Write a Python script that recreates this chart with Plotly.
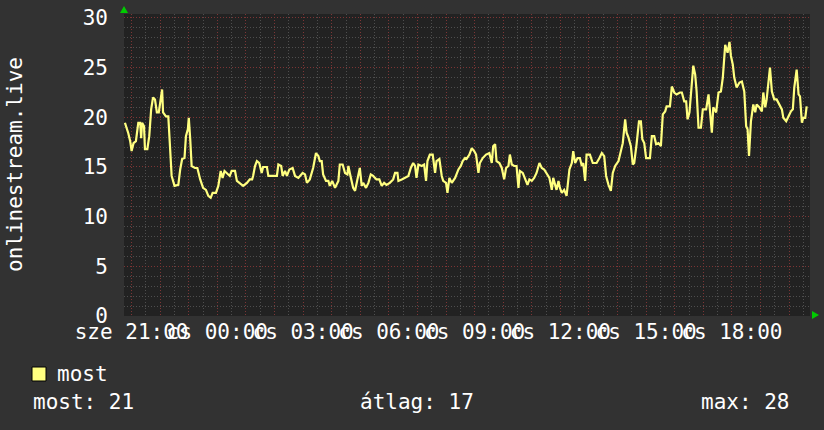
import plotly.graph_objects as go
import pandas as pd

# ---------------- data ----------------
series_name = "most"
y_title = "onlinestream.live"
start_date = "2024-01-10"          # a Wednesday ("sze"), next day Thursday ("cs")
day_abbr = ["sze", "cs"]

times = [
    "20:46","20:50","20:53","20:57","21:00","21:04","21:09","21:14","21:18","21:20",
    "21:22","21:26","21:28","21:33","21:37","21:41","21:45","21:49","21:53","21:57",
    "22:01","22:04","22:06","22:12","22:17","22:21","22:24","22:30","22:38","22:42",
    "22:46","22:51","22:54","22:58","23:00","23:03","23:06","23:13","23:18","23:24",
    "23:30","23:36","23:41","23:46","23:50","23:57","00:02","00:07","00:11","00:15",
    "00:26","00:30","00:37","00:41","00:47","00:54","01:02","01:08","01:13","01:15",
    "01:19","01:23","01:28","01:33","01:36","01:44","01:47","02:05","02:08","02:14",
    "02:17","02:22","02:26","02:31","02:38","02:43","02:50","02:55","02:59","03:04",
    "03:08","03:14","03:18","03:21","03:27","03:32","03:35","03:39","03:42","03:48",
    "03:53","03:56","04:01","04:07","04:14","04:17","04:23","04:28","04:33","04:35",
    "04:38","04:42","04:45","04:49","04:52","04:59","05:03","05:06","05:12","05:17",
    "05:22","05:27","05:34","05:40","05:45","05:50","05:55","06:02","06:09","06:13",
    "06:18","06:20","06:27","06:34","06:41","06:46","06:51","06:55","06:58","07:02",
    "07:09","07:14","07:18","07:21","07:26","07:32","07:37","07:40","07:46","07:51",
    "07:54","08:00","08:03","08:07","08:12","08:19","08:26","08:31","08:35","08:40",
    "08:43","08:49","08:54","08:59","09:03","09:08","09:11","09:17","09:24","09:31",
    "09:36","09:39","09:43","09:46","09:52","09:57","10:02","10:06","10:11","10:14",
    "10:18","10:23","10:28","10:32","10:35","10:41","10:46","10:51","10:55","11:00",
    "11:05","11:10","11:16","11:21","11:26","11:31","11:37","11:42","11:45","11:49",
    "11:52","11:56","11:59","12:03","12:08","12:13","12:19","12:24","12:27","12:31",
    "12:36","12:41","12:45","12:48","12:52","12:55","13:02","13:08","13:16","13:22",
    "13:27","13:32","13:36","13:41","13:46","13:50","13:55","14:02","14:07","14:11",
    "14:16","14:19","14:23","14:28","14:32","14:35","14:40","14:45","14:49","14:52",
    "14:56","15:00","15:08","15:12","15:17","15:21","15:26","15:31","15:35","15:40",
    "15:43","15:50","15:54","15:59","16:04","16:11","16:15","16:20","16:24","16:27",
    "16:31","16:36","16:39","16:43","16:46","16:50","16:55","16:59","17:06","17:11",
    "17:14","17:18","17:21","17:27","17:32","17:37","17:41","17:46","17:51","17:55",
    "17:58","18:02","18:05","18:10","18:16","18:21","18:26","18:30","18:33","18:36",
    "18:40","18:45","18:49","18:52","18:58","19:03","19:06","19:10","19:13","19:17",
    "19:20","19:24","19:29","19:34","19:40","19:45","19:48","19:54","19:59","20:04",
    "20:08","20:11","20:16","20:20","20:23","20:27","20:30","20:34","20:37",
]

values = [
    19.45,18.95,18.4,17.6,16.6,17.4,17.6,19.45,19.45,17.9,
    19.45,19.1,16.8,16.8,18.1,20.8,22.0,21.8,20.5,20.5,
    21.8,22.8,20.5,20.1,20.1,17.1,14.1,13.1,13.2,14.75,
    15.8,15.9,18.1,18.8,19.95,17.8,15.1,14.9,14.9,13.75,
    12.9,12.7,12.1,11.9,12.4,12.4,13.1,14.6,13.9,14.6,
    14.1,14.6,14.6,13.6,13.4,13.1,13.4,13.75,13.75,14.1,
    15.1,15.6,15.4,14.4,15.0,15.0,14.1,14.1,15.25,15.1,
    14.1,14.6,14.1,14.75,14.9,14.1,13.9,14.25,14.4,14.25,
    13.4,13.75,14.4,14.9,16.4,16.1,15.6,15.6,14.25,13.6,
    13.6,13.1,13.6,12.9,13.6,15.25,15.25,14.4,14.25,15.1,
    14.4,13.4,12.9,12.6,13.4,14.9,13.1,13.4,12.9,13.4,
    14.25,14.1,13.75,13.75,13.1,13.4,13.2,13.4,13.75,14.4,
    14.4,13.6,13.75,13.9,14.1,14.9,15.4,15.1,13.9,15.25,
    15.1,15.25,13.6,15.6,16.25,16.25,14.4,15.6,15.8,14.1,
    13.6,13.4,12.4,13.9,13.4,13.9,14.75,15.1,15.6,15.9,
    15.8,16.25,16.9,16.6,16.25,14.4,15.4,15.9,16.25,16.4,
    15.4,17.1,17.3,15.6,15.4,14.9,13.75,14.9,15.1,16.25,
    15.25,15.1,15.1,12.9,14.6,14.4,13.75,13.2,13.75,13.6,
    13.9,14.4,15.4,14.9,14.75,14.4,13.9,12.7,13.9,13.2,
    12.7,13.6,12.9,12.4,12.7,12.1,14.75,15.4,16.6,15.4,
    15.9,15.9,15.1,15.4,13.6,16.25,16.25,15.4,15.4,15.9,
    16.4,16.1,14.1,13.2,12.6,14.4,15.1,15.6,16.6,17.4,
    19.8,18.45,17.95,17.1,15.25,15.4,17.3,19.6,19.6,17.8,
    17.4,15.9,15.9,18.1,18.1,17.3,17.4,17.1,20.3,20.6,
    21.1,21.1,23.1,22.5,22.3,22.5,22.5,21.6,21.6,19.8,
    20.5,23.6,25.2,24.3,22.6,18.95,18.95,20.8,20.8,22.3,
    20.3,18.45,21.0,20.5,22.5,22.6,24.0,27.3,26.5,27.6,
    26.2,25.3,24.0,23.0,23.5,23.6,22.6,19.1,18.8,16.1,
    19.6,21.3,20.5,21.3,21.0,20.6,22.5,21.0,21.8,23.5,
    25.0,22.6,21.8,21.8,21.3,20.8,19.95,19.6,20.1,20.6,
    20.8,23.0,24.8,22.3,22.1,19.45,19.95,19.95,21.1,
]

stat_labels = ["most", "átlag", "max"]
stat_values = [21, 17, 28]
y_ticks = [0, 5, 10, 15, 20, 25, 30]

assert len(times) == len(values), (len(times), len(values))

# ---------------- build timestamps ----------------
base = pd.Timestamp(start_date)
stamps = []
day = 0
prev = None
for t in times:
    h, m = map(int, t.split(":"))
    mins = h * 60 + m
    if prev is not None and mins < prev:
        day += 1
    prev = mins
    stamps.append(base + pd.Timedelta(days=day, minutes=mins))

x_start = base + pd.Timedelta(hours=20, minutes=44)
x_end = x_start + pd.Timedelta(hours=24)
hours = pd.date_range(x_start.ceil("h"), x_end, freq="h")
ticktext = [
    f"{day_abbr[(h.normalize() - base).days]} {h:%H:%M}" if h.hour % 3 == 0 else ""
    for h in hours
]

# ---------------- style ----------------
W, H = 824, 430
ML, MR, MT, MB = 124, 14, 14, 114
PW, PH = W - ML - MR, H - MT - MB
FONT = "DejaVu Sans Mono"
BG = "#323232"
CANVAS = "#222222"
MAJOR = "#7c3535"
MINOR = "#4e4e4e"
LINE = "#ffff80"
WHITE = "#ffffff"

def px(xp):
    return (xp - ML) / PW

def py(yp):
    return (H - MB - yp) / PH

fig = go.Figure()
fig.add_trace(go.Scatter(
    x=stamps, y=values, mode="lines",
    line=dict(color=LINE, width=2.2),
    showlegend=False, hoverinfo="skip",
))

fig.update_layout(
    width=W, height=H,
    margin=dict(l=ML, r=MR, t=MT, b=MB, autoexpand=False),
    paper_bgcolor=BG, plot_bgcolor=CANVAS,
    font=dict(family=FONT, color=WHITE, size=20),
    showlegend=False,
    xaxis=dict(
        type="date", range=[x_start, x_end], automargin=False,
        tickmode="array", tickvals=hours, ticktext=ticktext,
        tickangle=0, tickfont=dict(family=FONT, size=21, color=WHITE),
        showgrid=True, gridcolor=MAJOR, griddash="1px,2px", gridwidth=1,
        minor=dict(dtick=30 * 60 * 1000, tick0=x_start.ceil("h"),
                   showgrid=True, gridcolor=MINOR, griddash="1px,2px", gridwidth=1),
        zeroline=False, showline=False, ticks="", ticklabelstandoff=1,
        fixedrange=True,
    ),
    yaxis=dict(
        range=[0, 30.4], automargin=False,
        tickmode="array", tickvals=y_ticks,
        tickfont=dict(family=FONT, size=21, color=WHITE),
        showgrid=True, gridcolor=MAJOR, griddash="1px,2px", gridwidth=1,
        minor=dict(dtick=1, tick0=0, showgrid=True, gridcolor=MINOR,
                   griddash="1px,2px", gridwidth=1),
        zeroline=False, showline=False, ticks="", ticklabelstandoff=15,
        fixedrange=True,
    ),
)

annotations = [
    dict(text=y_title, textangle=-90, xref="paper", yref="paper",
         x=px(15), y=0.5, xanchor="center", yanchor="middle",
         showarrow=False, font=dict(family=FONT, size=21, color=WHITE)),
    dict(text=series_name, xref="paper", yref="paper",
         x=px(55), y=py(374), xanchor="left", yanchor="middle",
         showarrow=False, font=dict(family=FONT, size=21, color=WHITE)),
]
stat_pos = [(31, "left"), (358, "left"), (792, "right")]
for (lab, val), (xp, anc) in zip(zip(stat_labels, stat_values), stat_pos):
    annotations.append(dict(
        text=f"{lab}: {val}", xref="paper", yref="paper",
        x=px(xp), y=py(402), xanchor=anc, yanchor="middle",
        showarrow=False, font=dict(family=FONT, size=21, color=WHITE)))
fig.update_layout(annotations=annotations)

shapes = [
    dict(type="rect", xref="paper", yref="paper",
         x0=px(32), x1=px(46), y0=py(381), y1=py(367),
         fillcolor=LINE, line=dict(color="#000000", width=1)),
    # green axis arrows
    dict(type="path", xref="paper", yref="paper",
         path=f"M {px(120)},{py(13)} L {px(128)},{py(13)} L {px(124)},{py(6)} Z",
         fillcolor="#00cc00", line=dict(width=0)),
    dict(type="path", xref="paper", yref="paper",
         path=f"M {px(812)},{py(311)} L {px(812)},{py(319)} L {px(819)},{py(315)} Z",
         fillcolor="#00cc00", line=dict(width=0)),
]
fig.update_layout(shapes=shapes)

fig.write_html(
    "out.html",
    config={"displayModeBar": False, "staticPlot": True},
    post_script="document.body.style.margin='0';document.body.style.padding='0';"
                "document.body.style.background='" + BG + "';",
)
